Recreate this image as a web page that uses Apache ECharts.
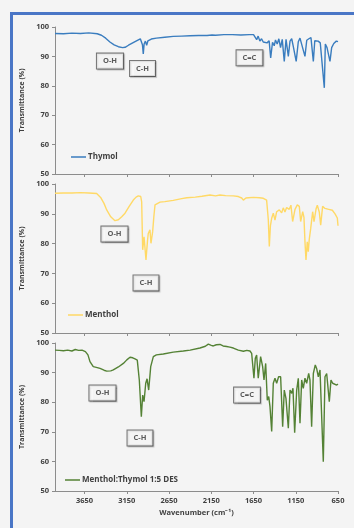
<!DOCTYPE html>
<html>
<head>
<meta charset="utf-8">
<script src="https://cdn.jsdelivr.net/npm/echarts@6/dist/echarts.min.js"></script>
<style>
  html, body { margin: 0; padding: 0; background: #f4f4f4; }
  #frame { position: absolute; left: 10px; top: 12px; width: 400px; height: 600px; border: 3px solid #4a76c6; }
  #chart { position: absolute; left: 0; top: 0; width: 354px; height: 528px; }
</style>
</head>
<body>
<div id="frame"></div>
<div id="chart"></div>
<script>
// wavenumber (cm-1) and transmittance (%)
const thymolWn = [4000, 3900, 3800, 3700, 3600, 3500, 3450, 3400, 3350, 3300, 3250, 3200, 3170, 3130, 3080, 3030, 2990, 2974, 2965, 2955, 2945, 2930, 2915, 2900, 2880, 2860, 2800, 2700, 2600, 2500, 2400, 2300, 2200, 2141, 2100, 2000, 1900, 1800, 1700, 1650, 1630, 1613, 1595, 1575, 1555, 1535, 1515, 1490, 1465, 1447, 1425, 1405, 1390, 1370, 1350, 1330, 1310, 1286, 1265, 1238, 1218, 1198, 1180, 1145, 1120, 1100, 1085, 1041, 1020, 995, 970, 942, 925, 905, 885, 860, 840, 812, 800, 780, 745, 725, 700, 670, 650];
const thymolT = [97.8, 97.7, 97.9, 97.8, 98.0, 97.7, 97.2, 96.2, 94.9, 93.9, 93.3, 93.0, 93.1, 93.8, 94.6, 95.4, 96.0, 96.4, 94.0, 90.8, 94.2, 95.2, 93.8, 95.3, 94.8, 95.9, 96.2, 96.5, 96.8, 96.9, 97.0, 97.1, 97.1, 97.3, 97.2, 97.4, 97.4, 97.3, 97.4, 97.4, 97.3, 95.7, 96.9, 95.2, 96.0, 94.9, 95.5, 94.6, 95.3, 89.5, 94.8, 93.6, 95.6, 94.2, 96.0, 93.0, 95.8, 88.3, 95.8, 90.0, 95.2, 96.0, 93.5, 88.3, 95.0, 96.2, 95.8, 90.0, 95.5, 96.0, 96.4, 88.3, 95.3, 95.6, 95.2, 94.6, 94.8, 79.3, 94.2, 93.0, 88.3, 93.0, 94.4, 95.2, 95.0];

const mentholWn = [4000, 3900, 3800, 3700, 3600, 3507, 3460, 3420, 3388, 3340, 3290, 3250, 3210, 3171, 3120, 3073, 3040, 3014, 2985, 2974, 2962, 2946, 2923, 2905, 2896, 2876, 2864, 2844, 2830, 2816, 2757, 2700, 2600, 2500, 2440, 2340, 2260, 2165, 2100, 2047, 1980, 1889, 1830, 1790, 1770, 1740, 1711, 1650, 1580, 1534, 1495, 1475, 1463, 1450, 1435, 1416, 1396, 1376, 1345, 1317, 1298, 1278, 1258, 1227, 1207, 1187, 1159, 1132, 1108, 1092, 1068, 1053, 1041, 1029, 1014, 1002, 990, 973, 950, 934, 910, 895, 871, 855, 832, 804, 760, 717, 685, 658, 650];
const mentholT = [96.9, 97.0, 97.0, 97.1, 97.0, 96.8, 95.5, 93.5, 91.3, 89.0, 87.7, 88.0, 89.0, 90.2, 92.6, 94.6, 95.6, 96.0, 95.8, 94.0, 77.9, 82.3, 74.5, 81.0, 83.4, 84.6, 80.1, 84.0, 89.0, 93.0, 93.9, 94.1, 94.5, 95.1, 95.4, 95.6, 95.9, 96.3, 96.0, 96.3, 96.1, 96.0, 95.8, 95.3, 94.6, 95.3, 95.4, 95.5, 95.4, 95.2, 94.6, 88.0, 79.0, 86.0, 88.5, 90.2, 87.9, 90.7, 91.3, 90.3, 92.0, 90.6, 92.1, 91.5, 92.9, 87.4, 91.5, 93.0, 92.5, 87.4, 90.7, 88.8, 80.6, 74.5, 80.6, 77.3, 81.5, 85.1, 90.7, 87.4, 91.6, 92.9, 90.5, 86.2, 92.5, 91.8, 91.5, 91.2, 90.0, 88.6, 86.0];

const desWn = [4000, 3950, 3900, 3850, 3800, 3760, 3720, 3680, 3640, 3610, 3586, 3547, 3500, 3467, 3420, 3388, 3340, 3310, 3250, 3191, 3150, 3112, 3080, 3053, 3026, 3002, 2978, 2962, 2946, 2926, 2910, 2891, 2867, 2836, 2800, 2718, 2600, 2481, 2400, 2284, 2220, 2185, 2150, 2126, 2090, 2047, 2010, 1968, 1930, 1889, 1830, 1770, 1730, 1692, 1672, 1645, 1629, 1613, 1594, 1566, 1542, 1526, 1506, 1487, 1470, 1455, 1435, 1416, 1396, 1376, 1353, 1329, 1305, 1286, 1266, 1238, 1218, 1198, 1183, 1163, 1139, 1120, 1100, 1080, 1061, 1041, 1021, 997, 982, 962, 942, 919, 903, 883, 863, 844, 824, 804, 784, 769, 753, 733, 713, 694, 666, 650];
const desT = [97.6, 97.5, 97.4, 97.6, 97.3, 97.8, 97.5, 97.6, 97.1, 96.0, 93.7, 92.0, 91.7, 91.4, 90.8, 90.5, 90.6, 90.9, 91.9, 93.1, 94.3, 95.2, 95.0, 94.6, 94.2, 87.5, 75.1, 82.4, 80.2, 86.4, 87.9, 84.1, 92.0, 95.4, 96.0, 96.3, 96.9, 97.3, 97.6, 98.3, 98.9, 99.6, 99.2, 99.0, 99.4, 99.5, 99.0, 98.8, 98.6, 98.3, 97.6, 97.2, 97.5, 97.3, 96.5, 88.1, 94.8, 95.9, 88.1, 95.4, 92.0, 87.5, 93.1, 80.7, 81.9, 78.5, 70.1, 86.4, 88.1, 86.4, 88.6, 88.6, 71.7, 84.1, 81.3, 71.2, 84.1, 83.0, 84.7, 69.7, 84.1, 88.1, 72.9, 87.5, 84.7, 88.1, 86.4, 89.7, 87.5, 71.7, 89.7, 92.6, 91.4, 88.6, 90.9, 90.3, 59.9, 88.6, 89.7, 90.3, 80.2, 87.5, 86.4, 87.0, 85.8, 86.1];

const seriesNames = ['Thymol', 'Menthol', 'Menthol:Thymol 1:5 DES'];
const seriesColors = ['#3a7dbf', '#ffd966', '#548235'];
const xTicks = [650, 1150, 1650, 2150, 2650, 3150, 3650];

// band labels: panel, text, wavenumber, transmittance
const bandPanel = [0, 0, 0, 1, 1, 2, 2, 2];
const bandText = ['O-H', 'C-H', 'C=C', 'O-H', 'C-H', 'O-H', 'C-H', 'C=C'];
const bandWn = [3349, 2964, 1698, 3296, 2923, 3438, 2994, 1727];
const bandT = [88.4, 85.9, 89.5, 83.2, 66.8, 83.1, 67.9, 82.4];

const zip = (a, b) => a.map((v, i) => [v, b[i]]);
const spectra = [zip(thymolWn, thymolT), zip(mentholWn, mentholT), zip(desWn, desT)];

const font = 'Open Sans, Liberation Sans, sans-serif';
const gridTops = [27, 184, 343];
const gridHeights = [147, 149, 148];
const legendPos = [[66, 148], [63, 306], [60, 471]];

const chart = echarts.init(document.getElementById('chart'), null, { renderer: 'canvas' });

const option = {
    animation: false,
    grid: gridTops.map((top, i) => ({ left: 55, right: 16, top: top, height: gridHeights[i] })),
    legend: seriesNames.map((name, i) => ({
        data: [name],
        left: legendPos[i][0],
        top: legendPos[i][1],
        icon: 'rect',
        itemWidth: 15,
        itemHeight: 1.5,
        itemGap: 2,
        textStyle: { fontSize: 8, fontWeight: 'bold', color: '#404040', fontFamily: font, padding: [0, 0, 0, -3] },
    })),
    xAxis: gridTops.map((_, i) => ({
        type: 'value',
        gridIndex: i,
        inverse: true,
        min: 650,
        max: 4000,
        name: i === 2 ? 'Wavenumber (cm\u207B\u00B9)' : '',
        nameLocation: 'middle',
        nameGap: 18,
        nameTextStyle: { fontSize: 7.5, fontWeight: 'bold', color: '#404040', fontFamily: font },
        axisLine: { lineStyle: { color: '#8c8c8c' } },
        axisTick: { show: true, length: 3, customValues: xTicks, lineStyle: { color: '#8c8c8c' } },
        axisLabel: {
            show: i === 2,
            customValues: xTicks,
            formatter: (v) => String(v),
            fontSize: 7.5,
            fontWeight: 'bold',
            color: '#404040',
            fontFamily: font,
            margin: 6,
        },
        splitLine: { show: false },
    })),
    yAxis: gridTops.map((_, i) => ({
        type: 'value',
        gridIndex: i,
        min: 50,
        max: 100,
        interval: 10,
        name: 'Transmittance (%)',
        nameLocation: 'middle',
        nameGap: 22,
        nameTextStyle: { fontSize: 7, fontWeight: 'bold', color: '#404040', fontFamily: font },
        axisLine: { show: true, lineStyle: { color: '#8c8c8c' } },
        axisTick: { show: true, length: 3, lineStyle: { color: '#8c8c8c' } },
        axisLabel: { fontSize: 7.5, fontWeight: 'bold', color: '#404040', fontFamily: font, margin: 6 },
        splitLine: { show: false },
    })),
    series: [
        ...spectra.map((data, i) => ({
            name: seriesNames[i],
            type: 'line',
            xAxisIndex: i,
            yAxisIndex: i,
            symbol: 'none',
            color: seriesColors[i],
            lineStyle: { width: 1.4 },
            data: data,
        })),
        ...[0, 1, 2].map((p) => ({
            type: 'scatter',
            xAxisIndex: p,
            yAxisIndex: p,
            symbolSize: 0,
            silent: true,
            label: {
                show: true,
                position: 'inside',
                formatter: (d) => d.value[2],
                backgroundColor: '#ffffff',
                borderColor: '#555555',
                borderWidth: 1,
                padding: [4, 6, 3, 6],
                fontSize: 7.5,
                fontWeight: 'bold',
                color: '#333',
                fontFamily: font,
                shadowColor: 'rgba(0,0,0,0.25)',
                shadowBlur: 1,
                shadowOffsetX: 1,
                shadowOffsetY: 1,
            },
            data: bandText
                .map((t, k) => [bandWn[k], bandT[k], t, bandPanel[k]])
                .filter((d) => d[3] === p),
        })),
    ],
};

chart.setOption(option);
</script>
</body>
</html>
